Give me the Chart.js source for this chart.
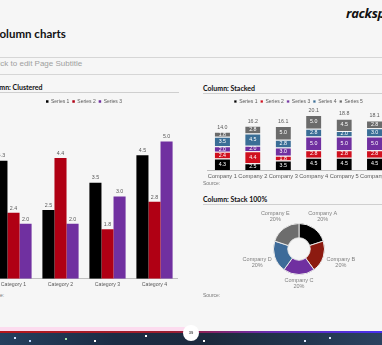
<!DOCTYPE html>
<html>
<head>
<meta charset="utf-8">
<script src="https://cdn.jsdelivr.net/npm/chart.js@4.4.0/dist/chart.umd.min.js"></script>
<style>
  html, body { margin: 0; padding: 0; }
  body {
    width: 382px; height: 345px; overflow: hidden; position: relative;
    background: #f6f6f6; font-family: "Liberation Sans", Arial, sans-serif;
  }
  .abs { position: absolute; white-space: nowrap; }
  .rule { position: absolute; height: 1px; background: #d6d6d6; }
  .head { font: bold 7px Lato, sans-serif; color: #111; }
  .src { font-size: 5px; color: #777; }
  canvas { position: absolute; }
</style>
</head>
<body>

<div class="abs" style="left:-8px; top:27px; font:bold 11.5px Lato, sans-serif; color:#111;">Column charts</div>
<div class="abs" style="left:346px; top:4px; font:italic bold 13px 'Open Sans', sans-serif; color:#111; letter-spacing:-0.3px;">rackspace</div>

<div class="rule" style="left:0; top:57px; width:382px;"></div>
<div class="abs" style="left:-9px; top:59px; font-size:8px; color:#a0a0a0;">Click to edit Page Subtitle</div>
<div class="rule" style="left:0; top:74px; width:382px;"></div>

<div class="abs head" style="left:-15px; top:83px;">Column: Clustered</div>
<div class="rule" style="left:0; top:92px; width:179px; background:#cfcfcf;"></div>
<div class="abs head" style="left:203px; top:84px;">Column: Stacked</div>
<div class="rule" style="left:203px; top:93px; width:179px; background:#cfcfcf;"></div>
<div class="abs head" style="left:203px; top:195px;">Column: Stack 100%</div>
<div class="rule" style="left:203px; top:204px; width:179px; background:#cfcfcf;"></div>

<canvas id="clustered" style="left:-10px; top:96px; width:188px; height:195px;"></canvas>
<canvas id="stacked" style="left:205px; top:96px; width:187px; height:87px;"></canvas>
<canvas id="donut" style="left:229px; top:199px; width:140px; height:100px;"></canvas>

<div class="abs src" style="left:-13px; top:292px;">Source:</div>
<div class="abs src" style="left:203px; top:180px;">Source:</div>
<div class="abs src" style="left:203px; top:292px;">Source:</div>

<div class="abs" style="left:0; top:327px; width:190px; height:4px; background:#fcdcef;"></div>
<div class="abs" style="left:0; top:331px; width:382px; height:2px; background:linear-gradient(to right, #b4181c 0%, #9a1f30 45%, #6a2cb0 70%, #4630f0 100%);"></div>
<div class="abs" style="left:0; top:333px; width:382px; height:12px;
  background:
    radial-gradient(circle at 15px 5px, #cfe3ff 0 1px, transparent 1.5px),
    radial-gradient(circle at 30px 8px, #bcd6ff 0 1px, transparent 1.5px),
    radial-gradient(circle at 66px 6px, #9fe0a8 0 1px, transparent 1.5px),
    radial-gradient(circle at 95px 8px, #ffffff 0 1px, transparent 1.5px),
    radial-gradient(circle at 146px 3px, #ffffff 0 1px, transparent 1.5px),
    radial-gradient(circle at 204px 8px, #ffffff 0 1px, transparent 1.5px),
    radial-gradient(circle at 305px 8px, #dfe9ff 0 1px, transparent 1.5px),
    radial-gradient(circle at 330px 5px, #dfe9ff 0 1px, transparent 1.5px),
    linear-gradient(to right, #24405e, #1b2c44 30%, #1c2a3d 55%, #22364f 80%, #2b4260);"></div>
<div class="abs" style="left:183px; top:325px; width:16px; height:16px; border-radius:50%; background:#fff; font:bold 4px 'Liberation Sans', sans-serif; color:#555; text-align:center; line-height:16px;">39</div>

<script>
// clustered column
const clusterCats = ['Category 1', 'Category 2', 'Category 3', 'Category 4'];
const clusterSeries = ['Series 1', 'Series 2', 'Series 3'];
const clusterS1 = [4.3, 2.5, 3.5, 4.5];
const clusterS2 = [2.4, 4.4, 1.8, 2.8];
const clusterS3 = [2.0, 2.0, 3.0, 5.0];

// stacked column
const stackCats = ['Company 1', 'Company 2', 'Company 3', 'Company 4', 'Company 5', 'Company 6'];
const stackSeries = ['Series 1', 'Series 2', 'Series 3', 'Series 4', 'Series 5'];
const stackS1 = [4.3, 2.5, 3.5, 4.5, 4.5, 4.5];
const stackS2 = [2.4, 4.4, 1.8, 2.8, 2.8, 2.8];
const stackS3 = [2.0, 2.0, 3.0, 5.0, 5.0, 5.0];
const stackS4 = [3.5, 4.5, 2.8, 2.8, 2.0, 3.0];
const stackS5 = [1.8, 2.8, 5.0, 5.0, 4.5, 2.8];

// doughnut
const donutLabels = ['Company A', 'Company B', 'Company C', 'Company D', 'Company E'];
const donutValues = [20, 20, 20, 20, 20];

Chart.defaults.font.family = "'Liberation Sans', Arial, sans-serif";
Chart.defaults.color = '#595959';
Chart.defaults.animation = false;
Chart.defaults.devicePixelRatio = 1;

const legendOpts = {
  position: 'top',
  labels: { boxWidth: 2.5, boxHeight: 2.5, padding: 3, font: { size: 5 }, color: '#595959' }
};

// draws the value labels on/above the bars
const barLabels = {
  id: 'barLabels',
  afterDatasetsDraw(chart, args, opts) {
    const ctx = chart.ctx;
    ctx.save();
    ctx.font = '5.3px ' + Chart.defaults.font.family;
    ctx.textAlign = 'center';
    chart.data.datasets.forEach((ds, i) => {
      chart.getDatasetMeta(i).data.forEach((bar, j) => {
        const txt = ds.data[j].toFixed(1);
        if (opts.inside) {
          ctx.fillStyle = '#ffffff';
          ctx.textBaseline = 'middle';
          ctx.fillText(txt, bar.x, (bar.y + bar.base) / 2);
        } else {
          ctx.fillStyle = '#595959';
          ctx.textBaseline = 'bottom';
          ctx.fillText(txt, bar.x, bar.y - 2);
        }
      });
    });
    if (opts.totals) {
      const last = chart.getDatasetMeta(chart.data.datasets.length - 1);
      ctx.fillStyle = '#595959';
      ctx.textBaseline = 'bottom';
      chart.data.labels.forEach((l, j) => {
        let sum = 0;
        chart.data.datasets.forEach(ds => { sum += ds.data[j]; });
        ctx.fillText(sum.toFixed(1), last.data[j].x, last.data[j].y - 2);
      });
    }
    ctx.restore();
  }
};

new Chart(document.getElementById('clustered'), {
  type: 'bar',
  data: {
    labels: clusterCats,
    datasets: [
      { label: clusterSeries[0], data: clusterS1, backgroundColor: '#000000' },
      { label: clusterSeries[1], data: clusterS2, backgroundColor: '#b00014' },
      { label: clusterSeries[2], data: clusterS3, backgroundColor: '#7030a0' }
    ]
  },
  options: {
    responsive: false,
    layout: { padding: 0 },
    datasets: { bar: { categoryPercentage: 0.77, barPercentage: 1 } },
    plugins: { legend: legendOpts, tooltip: { enabled: false }, barLabels: { inside: false } },
    scales: {
      x: {
        grid: { display: false, drawTicks: false },
        border: { color: '#bfbfbf' },
        ticks: { font: { size: 5.2 }, color: '#595959', maxRotation: 0, autoSkip: false, padding: 3 }
      },
      y: { display: false, min: 0, max: 6 }
    }
  },
  plugins: [barLabels]
});

const stackColors = ['#000000', '#d0101e', '#7030a0', '#3a6e96', '#6b6b6b'];
const stackData = [stackS1, stackS2, stackS3, stackS4, stackS5];

new Chart(document.getElementById('stacked'), {
  type: 'bar',
  data: {
    labels: stackCats,
    datasets: stackData.map((d, i) => ({
      label: stackSeries[i], data: d, backgroundColor: stackColors[i],
      borderColor: '#f6f6f6', borderWidth: { top: 1, bottom: 0, left: 0, right: 0 }
    }))
  },
  options: {
    responsive: false,
    layout: { padding: 0 },
    datasets: { bar: { categoryPercentage: 1, barPercentage: 0.5 } },
    plugins: { legend: legendOpts, tooltip: { enabled: false }, barLabels: { inside: true, totals: true } },
    scales: {
      x: {
        stacked: true,
        grid: { display: false, drawTicks: false },
        border: { color: '#bfbfbf' },
        ticks: { font: { size: 5.7 }, color: '#595959', maxRotation: 0, minRotation: 0, autoSkip: false, padding: 3 }
      },
      y: { stacked: true, display: false, min: 0, max: 20.5 }
    }
  },
  plugins: [barLabels]
});

// labels outside each doughnut slice
const sliceLabels = {
  id: 'sliceLabels',
  afterDatasetsDraw(chart) {
    const ctx = chart.ctx;
    const meta = chart.getDatasetMeta(0);
    const total = chart.data.datasets[0].data.reduce((a, b) => a + b, 0);
    ctx.save();
    ctx.font = '5.5px ' + Chart.defaults.font.family;
    ctx.fillStyle = '#7f7f7f';
    ctx.textAlign = 'center';
    ctx.textBaseline = 'middle';
    meta.data.forEach((arc, i) => {
      const a = (arc.startAngle + arc.endAngle) / 2;
      const r = arc.outerRadius + 9 + 10 * Math.abs(Math.cos(a));
      const x = arc.x + Math.cos(a) * r;
      const y = arc.y + Math.sin(a) * r;
      const pct = Math.round(chart.data.datasets[0].data[i] / total * 100) + '%';
      ctx.fillText(chart.data.labels[i], x, y - 3.2);
      ctx.fillText(pct, x, y + 3.2);
    });
    ctx.restore();
  }
};

new Chart(document.getElementById('donut'), {
  type: 'doughnut',
  data: {
    labels: donutLabels,
    datasets: [{
      data: donutValues,
      backgroundColor: ['#000000', '#8c1a10', '#7030a0', '#3d6b99', '#6d6d6d'],
      borderColor: '#e8e8e8',
      borderWidth: 1
    }]
  },
  options: {
    responsive: false,
    cutout: '44%',
    layout: { padding: 24 },
    plugins: { legend: { display: false }, tooltip: { enabled: false } }
  },
  plugins: [sliceLabels]
});
</script>
</body>
</html>
